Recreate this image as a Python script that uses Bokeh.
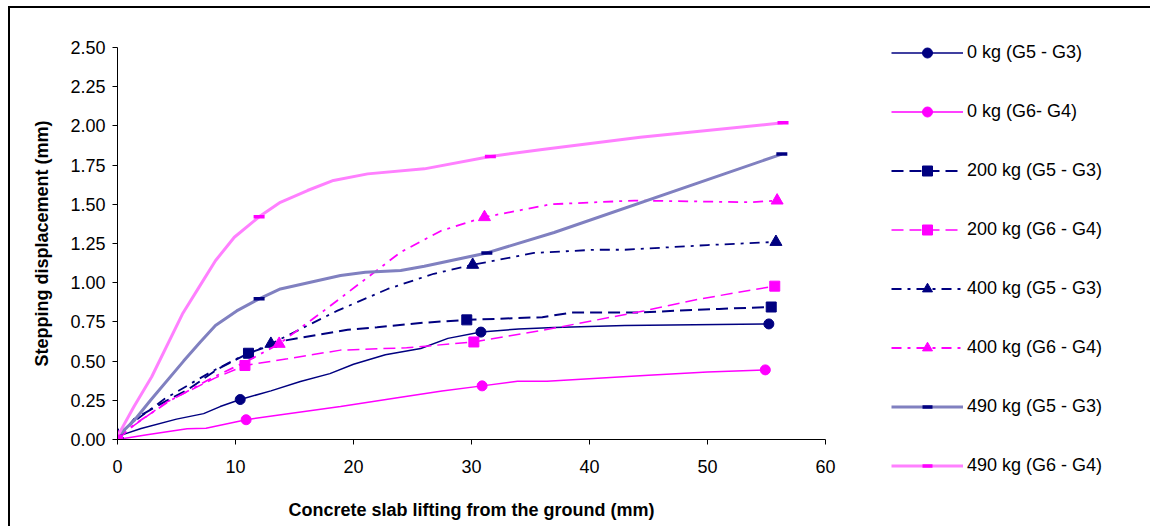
from bokeh.plotting import figure
from bokeh.models import Legend, LegendItem, Range1d, SingleIntervalTicker, NumeralTickFormatter
from bokeh.embed import file_html
from bokeh.resources import INLINE

# ---- data ----
x_0_g53 = [0, 2, 5, 7.3, 8.7, 10.4, 13, 15.5, 18, 20, 22.7, 25.7, 28, 30.8, 34, 37, 43, 55.2]
y_0_g53 = [0.02, 0.07, 0.13, 0.165, 0.21, 0.255, 0.31, 0.37, 0.42, 0.48, 0.54, 0.58, 0.645, 0.685, 0.705, 0.715, 0.727, 0.737]
mx_0_g53 = [0, 10.4, 30.8, 55.2]
my_0_g53 = [0.02, 0.255, 0.685, 0.737]

x_0_g64 = [0, 2.5, 5.9, 7.5, 10.9, 14, 18.9, 24, 27.5, 30.9, 33.9, 36.4, 45, 50, 54.9]
y_0_g64 = [0, 0.03, 0.068, 0.072, 0.126, 0.16, 0.21, 0.27, 0.31, 0.342, 0.372, 0.372, 0.41, 0.43, 0.444]
mx_0_g64 = [0, 10.9, 30.9, 54.9]
my_0_g64 = [0, 0.126, 0.342, 0.444]

x_200_g53 = [0, 1.4, 3.5, 6.0, 8.5, 11.1, 14.1, 19.5, 22, 26, 29.6, 36, 38.5, 44, 51, 55.4]
y_200_g53 = [0, 0.13, 0.22, 0.32, 0.45, 0.55, 0.63, 0.70, 0.716, 0.745, 0.763, 0.78, 0.81, 0.81, 0.833, 0.845]
mx_200_g53 = [0, 11.1, 29.6, 55.4]
my_200_g53 = [0, 0.55, 0.763, 0.845]

x_200_g64 = [0, 1.4, 4.2, 8.2, 10.8, 14.4, 18.9, 24.5, 30.2, 36.7, 44.6, 49.4, 55.7]
y_200_g64 = [0, 0.09, 0.24, 0.39, 0.472, 0.515, 0.57, 0.585, 0.622, 0.706, 0.82, 0.897, 0.978]
mx_200_g64 = [0, 10.8, 30.2, 55.7]
my_200_g64 = [0, 0.472, 0.622, 0.978]

x_400_g53 = [0, 1.5, 4, 7.9, 10.5, 13, 18.6, 22.9, 26.8, 30.1, 35.3, 40.4, 43, 50, 55.8]
y_400_g53 = [0.03, 0.12, 0.26, 0.43, 0.53, 0.61, 0.82, 0.96, 1.057, 1.114, 1.19, 1.21, 1.21, 1.24, 1.26]
mx_400_g53 = [0, 13, 30.1, 55.8]
my_400_g53 = [0.03, 0.61, 1.114, 1.26]

x_400_g64 = [0, 1.5, 4.5, 8.2, 11, 13.7, 18, 22, 24, 27.4, 31.1, 36.7, 43.8, 53.6, 55.9]
y_400_g64 = [0.02, 0.10, 0.25, 0.40, 0.50, 0.61, 0.85, 1.08, 1.195, 1.33, 1.418, 1.50, 1.524, 1.513, 1.524]
mx_400_g64 = [0, 13.7, 31.1, 55.9]
my_400_g64 = [0.02, 0.61, 1.418, 1.524]

x_490_g53 = [0, 1.4, 2.8, 5.6, 7.0, 8.3, 10.1, 12, 13.8, 18.9, 21, 24, 26, 31.3, 37, 56.3]
y_490_g53 = [0.02, 0.12, 0.25, 0.50, 0.62, 0.727, 0.82, 0.897, 0.96, 1.046, 1.067, 1.078, 1.105, 1.19, 1.32, 1.82]
mx_490_g53 = [0, 12, 31.3, 56.3]
my_490_g53 = [0.02, 0.897, 1.19, 1.82]

x_490_g64 = [0, 1.4, 2.9, 5.5, 6.9, 8.3, 9.9, 12, 13.8, 16.1, 18.3, 21.2, 26, 31.6, 36, 44.3, 56.4]
y_490_g64 = [0.02, 0.21, 0.40, 0.80, 0.97, 1.14, 1.29, 1.42, 1.513, 1.588, 1.652, 1.694, 1.726, 1.805, 1.85, 1.928, 2.02]
mx_490_g64 = [0, 12, 31.6, 56.4]
my_490_g64 = [0.02, 1.42, 1.805, 2.02]

labels = ["0 kg (G5 - G3)", "0 kg (G6- G4)", "200 kg (G5 - G3)", "200 kg (G6 - G4)",
          "400 kg (G5 - G3)", "400 kg (G6 - G4)", "490 kg (G5 - G3)", "490 kg (G6 - G4)"]

FONT = "Liberation Sans"
NAVY = "#000080"
MAG = "#FF00FF"

# main chart: starts at x=10, y=8 (margin + border)
H = 520
WP = 850
p = figure(width=WP, height=H, output_backend="svg", toolbar_location=None,
           x_range=Range1d(0, 60), y_range=Range1d(0, 2.5),
           min_border_left=107, min_border_right=WP - 815,
           min_border_top=39, min_border_bottom=H - 431)
p.styles = {"margin-left": "8px", "margin-top": "6px",
            "border-top": "2px solid black", "border-left": "2px solid black"}
p.outline_line_color = None
p.xgrid.visible = False
p.ygrid.visible = False
p.background_fill_color = "white"
p.border_fill_color = "white"

p.xaxis.ticker = SingleIntervalTicker(interval=10)
p.yaxis.ticker = SingleIntervalTicker(interval=0.25)
p.yaxis.formatter = NumeralTickFormatter(format="0.00")
for ax in (p.xaxis[0], p.yaxis[0]):
    ax.axis_line_color = "black"
    ax.axis_line_width = 1
    ax.major_tick_line_color = "black"
    ax.major_tick_out = 5
    ax.major_tick_in = 0
    ax.minor_tick_line_color = None
    ax.major_label_text_font = FONT
    ax.major_label_text_font_size = "18px"
    ax.major_label_text_color = "black"
    ax.axis_label_text_font = FONT
    ax.axis_label_text_font_size = "18px"
    ax.axis_label_text_font_style = "bold"
    ax.axis_label_text_color = "black"
p.xaxis.axis_label = "Concrete slab lifting from the ground (mm)"
p.yaxis.axis_label = "Stepping displacement (mm)"
p.xaxis.major_label_standoff = 15
p.yaxis.major_label_standoff = 7
p.xaxis.axis_label_standoff = 24
p.yaxis.axis_label_standoff = 15

series = [
    (x_0_g53, y_0_g53, mx_0_g53, my_0_g53, NAVY, 1.5, "solid", "circle", NAVY, 10, 1),
    (x_0_g64, y_0_g64, mx_0_g64, my_0_g64, MAG, 1.5, "solid", "circle", MAG, 10, 1),
    (x_200_g53, y_200_g53, mx_200_g53, my_200_g53, NAVY, 2, "12 6", "square", NAVY, 10, 1),
    (x_200_g64, y_200_g64, mx_200_g64, my_200_g64, MAG, 1.5, "12 6", "square", MAG, 10, 1),
    (x_400_g53, y_400_g53, mx_400_g53, my_400_g53, NAVY, 1.8, "10 6 3 6", "triangle", NAVY, 12, 1),
    (x_400_g64, y_400_g64, mx_400_g64, my_400_g64, MAG, 1.8, "10 6 3 6", "triangle", MAG, 12, 1),
    (x_490_g53, y_490_g53, mx_490_g53, my_490_g53, "#8080C0", 3, "solid", "dash", NAVY, 11, 3.5),
    (x_490_g64, y_490_g64, mx_490_g64, my_490_g64, "#FF80FF", 3, "solid", "dash", MAG, 11, 3.5),
]

# legend panel: a separate root placed to the right; its ranges exclude all data,
# so its proxy glyphs only show in the legend
HL = 480
WL = 294
pl = figure(width=WL, height=HL, output_backend="svg", toolbar_location=None,
            x_range=Range1d(100, 101), y_range=Range1d(100, 101),
            x_axis_location=None, y_axis_location=None,
            min_border_left=0, min_border_right=0, min_border_top=0, min_border_bottom=0)
pl.styles = {"position": "absolute", "left": "856px", "top": "6px",
             "border-top": "2px solid black"}
pl.xgrid.visible = False
pl.ygrid.visible = False
pl.outline_line_color = None
pl.border_fill_color = "white"
pl.background_fill_color = "white"

items = []
for (xs, ys, mxs, mys, col, lw, dash, marker, mcol, msize, mlw), lab in zip(series, labels):
    p.line(xs, ys, line_color=col, line_width=lw, line_dash=dash)
    p.scatter(mxs, mys, marker=marker, size=msize, fill_color=mcol,
              line_color=mcol, line_width=mlw)
    l2 = pl.line(xs, ys, line_color=col, line_width=lw, line_dash=dash)
    m2 = pl.scatter(mxs, mys, marker=marker, size=msize, fill_color=mcol,
                    line_color=mcol, line_width=mlw)
    items.append(LegendItem(label=lab, renderers=[l2, m2]))

legend = Legend(items=items, location=(35, 10),
                glyph_width=72, glyph_height=25, label_height=25,
                spacing=34, padding=0, margin=0, label_standoff=4,
                label_text_font=FONT, label_text_font_size="18px",
                label_text_color="black",
                border_line_color=None, background_fill_alpha=0)
pl.add_layout(legend)

open("out.html", "w").write(file_html([p, pl], INLINE))
